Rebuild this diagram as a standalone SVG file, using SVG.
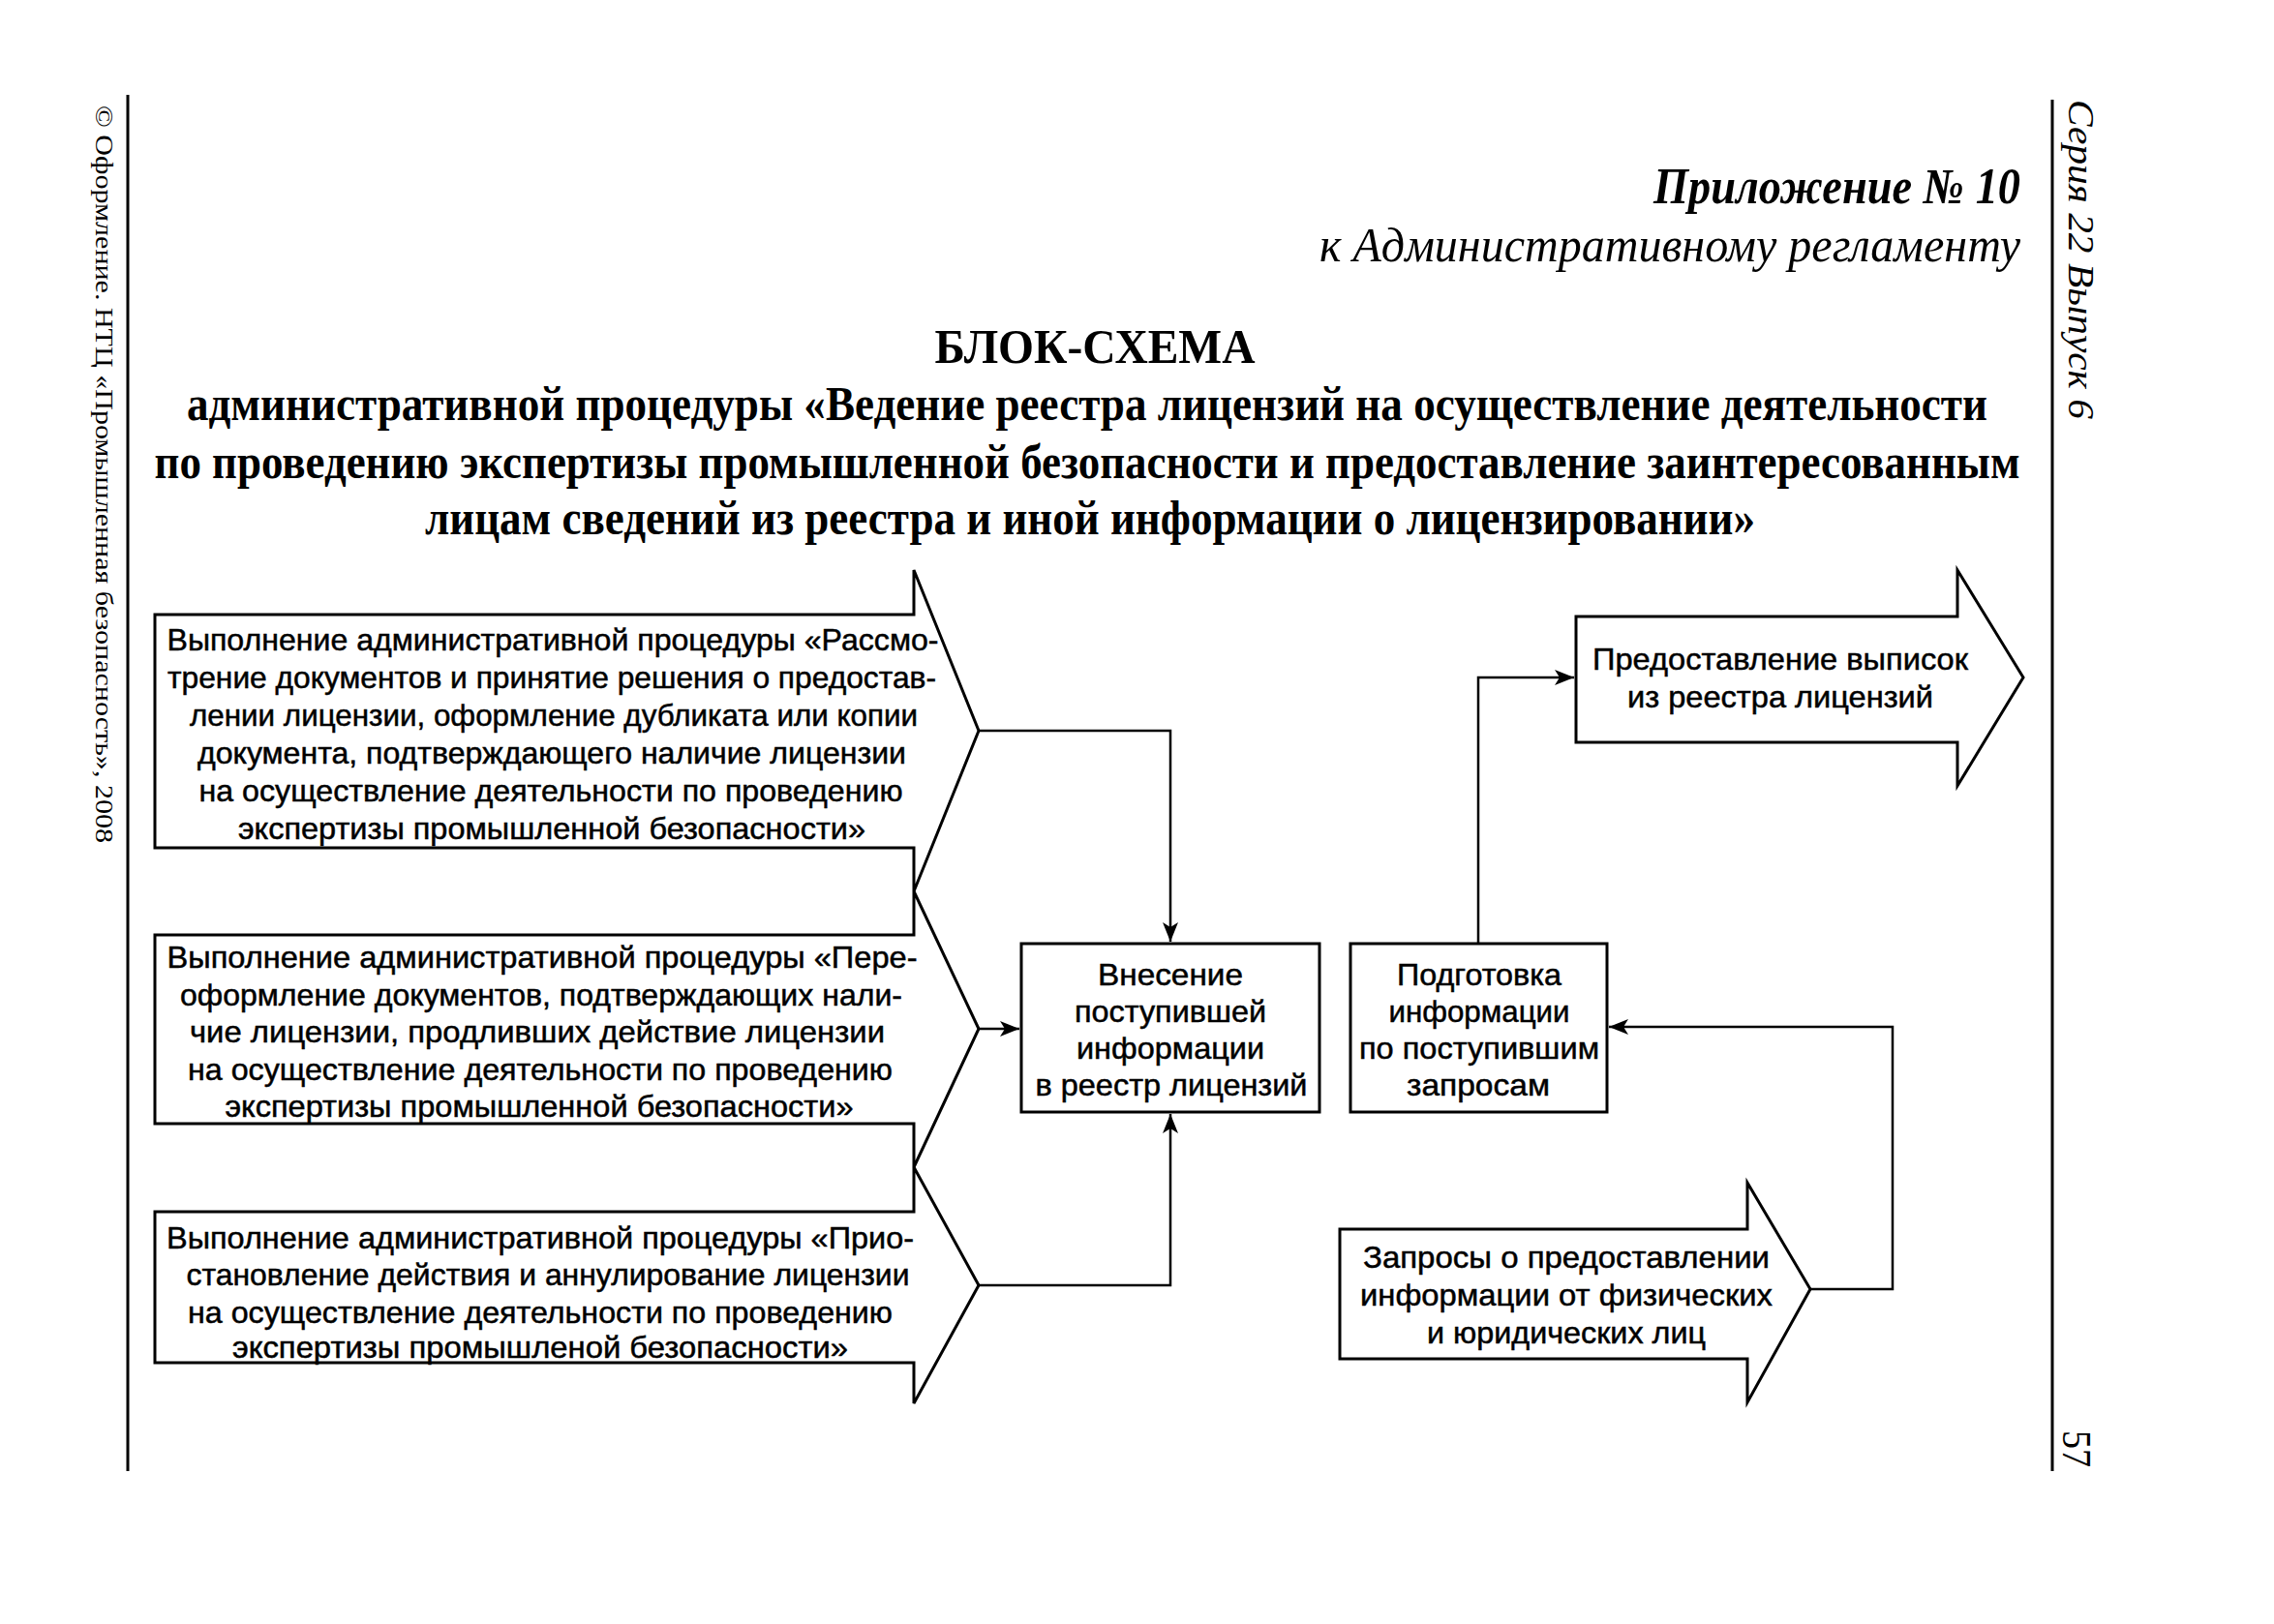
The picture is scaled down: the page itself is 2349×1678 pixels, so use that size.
<svg xmlns="http://www.w3.org/2000/svg" width="2349" height="1678" viewBox="0 0 2349 1678">
<defs>
<marker id="ah" markerUnits="userSpaceOnUse" markerWidth="22" markerHeight="16" refX="20" refY="8" orient="auto">
<path d="M0,0 L20,8 L0,16 L5,8 Z" fill="#000"/>
</marker>
<style>
.box{fill:#fff;stroke:#000;stroke-width:3;stroke-linejoin:miter}
.t{font-family:"Liberation Sans",Arial,sans-serif;font-size:32px;fill:#000;stroke:#000;stroke-width:0.5;text-anchor:middle}
.conn{fill:none;stroke:#000;stroke-width:2.5}
.hd{font-family:"Liberation Serif","Times New Roman",serif;fill:#000}
.rule{stroke:#000;stroke-width:3}
</style>
</defs>
<rect width="2349" height="1678" fill="#fff"/>

<g id="page">
<line class="rule" x1="132" y1="98" x2="132" y2="1520"/>
<line class="rule" x1="2120" y1="103" x2="2120" y2="1520"/>
<text class="hd" transform="translate(99,109) rotate(90)" font-size="26" textLength="762" lengthAdjust="spacingAndGlyphs">© Оформление. НТЦ «Промышленная безопасность», 2008</text>
<text class="hd" transform="translate(2137,103) rotate(90)" font-size="37" font-style="italic" textLength="330" lengthAdjust="spacingAndGlyphs">Серия 22 Выпуск 6</text>
<text class="hd" transform="translate(2131,1478) rotate(90)" font-size="42" textLength="38" lengthAdjust="spacingAndGlyphs">57</text>
</g>

<g id="heading">
<text class="hd" x="2087" y="210" font-size="52" font-weight="bold" font-style="italic" text-anchor="end" textLength="379" lengthAdjust="spacingAndGlyphs">Приложение № 10</text>
<text class="hd" x="2087" y="270" font-size="50" font-style="italic" text-anchor="end" textLength="724" lengthAdjust="spacingAndGlyphs">к Административному регламенту</text>
<text class="hd" x="1131" y="375" font-size="50" font-weight="bold" text-anchor="middle" textLength="331" lengthAdjust="spacingAndGlyphs">БЛОК-СХЕМА</text>
<text class="hd" x="1123" y="434" font-size="50" font-weight="bold" text-anchor="middle" textLength="1860" lengthAdjust="spacingAndGlyphs">административной процедуры «Ведение реестра лицензий на осуществление деятельности</text>
<text class="hd" x="1123" y="494" font-size="50" font-weight="bold" text-anchor="middle" textLength="1927" lengthAdjust="spacingAndGlyphs">по проведению экспертизы промышленной безопасности и предоставление заинтересованным</text>
<text class="hd" x="1126" y="552" font-size="50" font-weight="bold" text-anchor="middle" textLength="1374" lengthAdjust="spacingAndGlyphs">лицам сведений из реестра и иной информации о лицензировании»</text>
</g>

<g id="connectors">
<polyline class="conn" points="1011,755 1209,755 1209,973" marker-end="url(#ah)"/>
<polyline class="conn" points="1011,1063 1053,1063" marker-end="url(#ah)"/>
<polyline class="conn" points="1011,1328 1209,1328 1209,1151" marker-end="url(#ah)"/>
<polyline class="conn" points="1527,975 1527,700 1626,700" marker-end="url(#ah)"/>
<polyline class="conn" points="1870,1332 1955,1332 1955,1061 1662,1061" marker-end="url(#ah)"/>
</g>

<g id="procA">
<path class="box" d="M160,635 L944,635 L944,589 L1011,755 L944,921 L944,876 L160,876 Z"/>
<text class="t" x="571" y="672" textLength="797" lengthAdjust="spacingAndGlyphs">Выполнение административной процедуры «Рассмо-</text>
<text class="t" x="570" y="711" textLength="794" lengthAdjust="spacingAndGlyphs">трение документов и принятие решения о предостав-</text>
<text class="t" x="572" y="750" textLength="752" lengthAdjust="spacingAndGlyphs">лении лицензии, оформление дубликата или копии</text>
<text class="t" x="570" y="789" textLength="732" lengthAdjust="spacingAndGlyphs">документа, подтверждающего наличие лицензии</text>
<text class="t" x="569" y="828" textLength="727" lengthAdjust="spacingAndGlyphs">на осуществление деятельности по проведению</text>
<text class="t" x="570" y="867" textLength="648" lengthAdjust="spacingAndGlyphs">экспертизы промышленной безопасности»</text>
</g>

<g id="procB">
<path class="box" d="M160,966 L944,966 L944,921 L1011,1063 L944,1206 L944,1161 L160,1161 Z"/>
<text class="t" x="560" y="1000" textLength="775" lengthAdjust="spacingAndGlyphs">Выполнение административной процедуры «Пере-</text>
<text class="t" x="559" y="1039" textLength="746" lengthAdjust="spacingAndGlyphs">оформление документов, подтверждающих нали-</text>
<text class="t" x="555" y="1077" textLength="718" lengthAdjust="spacingAndGlyphs">чие лицензии, продливших действие лицензии</text>
<text class="t" x="558" y="1116" textLength="728" lengthAdjust="spacingAndGlyphs">на осуществление деятельности по проведению</text>
<text class="t" x="557" y="1154" textLength="649" lengthAdjust="spacingAndGlyphs">экспертизы промышленной безопасности»</text>
</g>

<g id="procC">
<path class="box" d="M160,1252 L944,1252 L944,1206 L1011,1328 L944,1450 L944,1408 L160,1408 Z"/>
<text class="t" x="558" y="1290" textLength="772" lengthAdjust="spacingAndGlyphs">Выполнение административной процедуры «Прио-</text>
<text class="t" x="566" y="1328" textLength="747" lengthAdjust="spacingAndGlyphs">становление действия и аннулирование лицензии</text>
<text class="t" x="558" y="1367" textLength="728" lengthAdjust="spacingAndGlyphs">на осуществление деятельности по проведению</text>
<text class="t" x="558" y="1403" textLength="636" lengthAdjust="spacingAndGlyphs">экспертизы промышленой безопасности»</text>
</g>

<g id="registry">
<rect class="box" x="1055" y="975" width="308" height="174"/>
<text class="t" x="1209" y="1018" textLength="150" lengthAdjust="spacingAndGlyphs">Внесение</text>
<text class="t" x="1209" y="1056" textLength="198" lengthAdjust="spacingAndGlyphs">поступившей</text>
<text class="t" x="1209" y="1094" textLength="194" lengthAdjust="spacingAndGlyphs">информации</text>
<text class="t" x="1210" y="1132" textLength="281" lengthAdjust="spacingAndGlyphs">в реестр лицензий</text>
</g>

<g id="prepare">
<rect class="box" x="1395" y="975" width="265" height="174"/>
<text class="t" x="1528" y="1018" textLength="170" lengthAdjust="spacingAndGlyphs">Подготовка</text>
<text class="t" x="1528" y="1056" textLength="187" lengthAdjust="spacingAndGlyphs">информации</text>
<text class="t" x="1528" y="1094" textLength="248" lengthAdjust="spacingAndGlyphs">по поступившим</text>
<text class="t" x="1527" y="1132" textLength="148" lengthAdjust="spacingAndGlyphs">запросам</text>
</g>

<g id="extracts">
<path class="box" d="M1628,637 L2022,637 L2022,589 L2090,700 L2022,812 L2022,767 L1628,767 Z"/>
<text class="t" x="1839" y="692" textLength="388" lengthAdjust="spacingAndGlyphs">Предоставление выписок</text>
<text class="t" x="1839" y="731" textLength="316" lengthAdjust="spacingAndGlyphs">из реестра лицензий</text>
</g>

<g id="requests">
<path class="box" d="M1384,1270 L1805,1270 L1805,1222 L1870,1332 L1805,1449 L1805,1404 L1384,1404 Z"/>
<text class="t" x="1618" y="1310" textLength="420" lengthAdjust="spacingAndGlyphs">Запросы о предоставлении</text>
<text class="t" x="1618" y="1349" textLength="426" lengthAdjust="spacingAndGlyphs">информации от физических</text>
<text class="t" x="1618" y="1388" textLength="288" lengthAdjust="spacingAndGlyphs">и юридических лиц</text>
</g>
</svg>
